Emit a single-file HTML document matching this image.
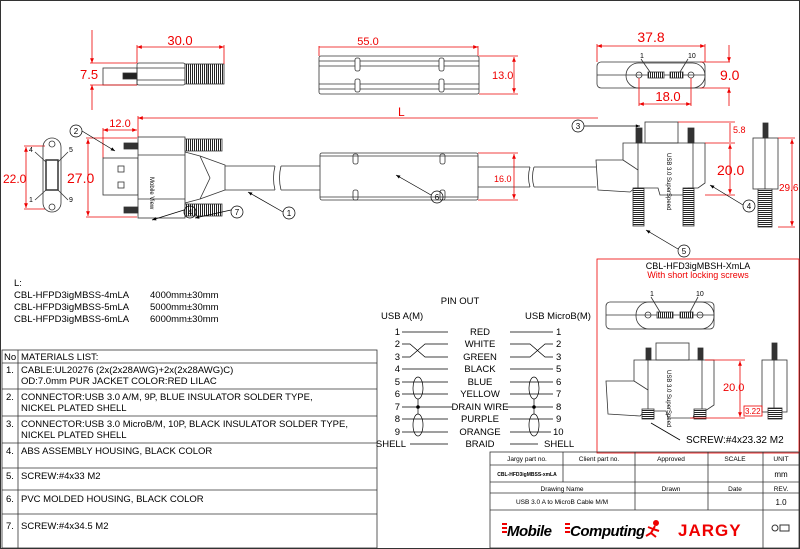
<!DOCTYPE html>
<html><head><meta charset="utf-8"><style>
body{margin:0;background:#fff}
svg{display:block;font-family:"Liberation Sans",Arial,sans-serif}
</style></head><body>
<svg width="800" height="549" viewBox="0 0 800 549" xmlns="http://www.w3.org/2000/svg">
<defs>
<marker id="a" viewBox="0 0 10 10" refX="10" refY="5" markerWidth="8" markerHeight="6" orient="auto-start-reverse"><path d="M0,1L10,5L0,9z" fill="#e00"/></marker>
<marker id="k" viewBox="0 0 10 10" refX="10" refY="5" markerWidth="8" markerHeight="6" orient="auto-start-reverse"><path d="M0,1L10,5L0,9z" fill="#000"/></marker>
<pattern id="h" width="3" height="2" patternUnits="userSpaceOnUse"><rect width="3" height="2" fill="#fff"/><rect width="3" height="1" fill="#222"/></pattern>
<pattern id="v" width="2" height="3" patternUnits="userSpaceOnUse"><rect width="2" height="3" fill="#fff"/><rect width="1" height="3" fill="#222"/></pattern>
</defs>
<rect x="0.5" y="0.5" width="799" height="548" fill="none" stroke="#333"/>

<!-- TOP LEFT side view -->
<g stroke="#333" fill="none" stroke-width="0.8">
<rect x="103" y="68" width="34" height="17"/>
<rect x="123" y="73" width="14" height="6" fill="#222"/>
<rect x="137" y="63" width="48" height="22" rx="2"/>
<line x1="137" y1="68" x2="185" y2="68"/><line x1="137" y1="80" x2="185" y2="80"/>
<rect x="185" y="64" width="39" height="20" fill="url(#v)"/>
<line x1="207" y1="64" x2="207" y2="84"/>
</g>
<g stroke="#e00" fill="none" stroke-width="0.8">
<line x1="137" y1="45" x2="137" y2="63"/><line x1="224" y1="45" x2="224" y2="64"/>
<line x1="137" y1="47" x2="224" y2="47" marker-start="url(#a)" marker-end="url(#a)"/>
<line x1="90" y1="63" x2="137" y2="63"/><line x1="90" y1="85" x2="137" y2="85"/>
<line x1="92" y1="30" x2="92" y2="63" marker-end="url(#a)"/><line x1="92" y1="110" x2="92" y2="85" marker-end="url(#a)"/>
</g>
<text x="180" y="45" fill="#e00" font-size="13" text-anchor="middle">30.0</text>
<text x="80" y="79" fill="#e00" font-size="13">7.5</text>

<!-- TOP middle -->
<g stroke="#333" fill="none" stroke-width="0.8">
<rect x="319" y="56" width="160" height="38" rx="2"/>
<line x1="319" y1="61" x2="479" y2="61"/><line x1="319" y1="66" x2="479" y2="66"/>
<line x1="319" y1="84" x2="479" y2="84"/><line x1="319" y1="89" x2="479" y2="89"/>
<rect x="355" y="58" width="5" height="13" rx="2" fill="#fff"/><rect x="355" y="79" width="5" height="13" rx="2" fill="#fff"/>
<rect x="439" y="58" width="5" height="13" rx="2" fill="#fff"/><rect x="439" y="79" width="5" height="13" rx="2" fill="#fff"/>
</g>
<g stroke="#e00" fill="none" stroke-width="0.8">
<line x1="319" y1="47" x2="478" y2="47" marker-end="url(#a)"/><line x1="319" y1="46" x2="319" y2="56"/><line x1="478" y1="46" x2="478" y2="56"/>
<line x1="479" y1="56" x2="518" y2="56"/><line x1="479" y1="94" x2="518" y2="94"/>
<line x1="514" y1="57" x2="514" y2="93" marker-start="url(#a)" marker-end="url(#a)"/>
</g>
<text x="368" y="45" fill="#e00" font-size="11" text-anchor="middle">55.0</text>
<text x="492" y="79" fill="#e00" font-size="11">13.0</text>

<!-- TOP right -->
<g stroke="#333" fill="none" stroke-width="0.8">
<rect x="597" y="62" width="108" height="26" rx="4"/>
<rect x="626" y="63" width="79" height="25" rx="12.5"/>
<line x1="597" y1="75" x2="705" y2="75"/>
<circle cx="639" cy="75" r="3"/><circle cx="691" cy="75" r="3"/>
<rect x="648" y="72" width="16" height="6" fill="url(#v)"/><rect x="670" y="72" width="13" height="6" fill="url(#v)"/>
<line x1="641" y1="59" x2="650" y2="72"/><line x1="688" y1="59" x2="680" y2="72"/>
</g>
<text x="640" y="58" font-size="7">1</text><text x="688" y="58" font-size="7">10</text>
<g stroke="#e00" fill="none" stroke-width="0.8">
<line x1="597" y1="46" x2="705" y2="46" marker-start="url(#a)" marker-end="url(#a)"/>
<line x1="597" y1="44" x2="597" y2="62"/><line x1="705" y1="44" x2="705" y2="62"/>
<line x1="700" y1="62" x2="730" y2="62"/><line x1="700" y1="88" x2="730" y2="88"/>
<line x1="729" y1="45" x2="729" y2="62" marker-end="url(#a)"/><line x1="729" y1="106" x2="729" y2="88" marker-end="url(#a)"/>
<line x1="639" y1="78" x2="639" y2="106"/><line x1="691" y1="78" x2="691" y2="106"/>
<line x1="639" y1="104" x2="691" y2="104" marker-start="url(#a)" marker-end="url(#a)"/>
</g>
<text x="651" y="42" fill="#e00" font-size="14" text-anchor="middle">37.8</text>
<text x="720" y="80" fill="#e00" font-size="14">9.0</text>
<text x="668" y="101" fill="#e00" font-size="13" text-anchor="middle">18.0</text>

<!-- L dimension -->
<g stroke="#e00" fill="none" stroke-width="0.8">
<line x1="138" y1="118" x2="598" y2="118" marker-start="url(#a)"/>
<line x1="138" y1="116" x2="138" y2="138"/>
<line x1="103" y1="128" x2="103" y2="158"/>
<line x1="103" y1="130" x2="137" y2="130" marker-start="url(#a)" marker-end="url(#a)"/>
<line x1="86" y1="138" x2="137" y2="138"/><line x1="86" y1="217" x2="137" y2="217"/>
<line x1="88" y1="139" x2="88" y2="216" marker-start="url(#a)" marker-end="url(#a)"/>
<line x1="24" y1="146" x2="45" y2="146"/><line x1="24" y1="209" x2="45" y2="209"/>
<line x1="26" y1="147" x2="26" y2="208" marker-start="url(#a)" marker-end="url(#a)"/>
</g>
<text x="398" y="116" fill="#e00" font-size="12">L</text>
<text x="120" y="127" fill="#e00" font-size="11" text-anchor="middle">12.0</text>
<text x="3" y="183" fill="#e00" font-size="12">22.0</text>
<text x="67" y="183" fill="#e00" font-size="14">27.0</text>

<!-- end view left -->
<g stroke="#333" fill="none" stroke-width="0.8">
<rect x="43" y="138" width="18" height="74" rx="9"/>
<rect x="46" y="160" width="12" height="30" fill="#fff" stroke-width="1.5"/>
<circle cx="52" cy="144" r="3"/><circle cx="52" cy="207" r="3"/>
<line x1="35" y1="152" x2="46" y2="162"/><line x1="68" y1="152" x2="58" y2="162"/>
<line x1="35" y1="200" x2="46" y2="190"/><line x1="68" y1="200" x2="58" y2="190"/>
</g>
<text x="29" y="152" font-size="7">4</text><text x="69" y="152" font-size="7">5</text>
<text x="29" y="202" font-size="7">1</text><text x="69" y="202" font-size="7">9</text>

<!-- USB A connector -->
<g stroke="#333" fill="none" stroke-width="0.8">
<rect x="103" y="158" width="35" height="37"/>
<rect x="118" y="166" width="6" height="6"/><rect x="118" y="182" width="6" height="6"/>
<rect x="138" y="137" width="47" height="81" fill="#fff"/>
<line x1="138" y1="155" x2="185" y2="155"/><line x1="138" y1="199" x2="185" y2="199"/>
<rect x="124" y="143" width="14" height="6" fill="#333"/><rect x="124" y="207" width="14" height="6" fill="#333"/>
<rect x="185" y="139" width="37" height="12" fill="url(#v)"/><rect x="185" y="204" width="37" height="12" fill="url(#v)"/>
<path d="M185,152 L200,156 L225,165 L225,190 L200,199 L185,203"/>
<path d="M200,156 L210,178 L200,199"/>
<line x1="225" y1="166" x2="275" y2="166"/><line x1="225" y1="190" x2="275" y2="190"/>
<line x1="281" y1="166" x2="320" y2="166"/><line x1="281" y1="190" x2="320" y2="190"/>
<path d="M275,166 q-3,12 0,24 M281,166 q-3,12 0,24"/>
<rect x="320" y="153" width="158" height="47" rx="2"/>
<line x1="320" y1="156" x2="478" y2="156"/><line x1="320" y1="197" x2="478" y2="197"/>
<rect x="353" y="154" width="5" height="10" rx="2"/><rect x="353" y="190" width="5" height="10" rx="2"/>
<rect x="440" y="154" width="5" height="10" rx="2"/><rect x="440" y="190" width="5" height="10" rx="2"/>
<line x1="478" y1="167" x2="530" y2="167"/><line x1="478" y1="187" x2="530" y2="187"/>
<line x1="534" y1="167" x2="596" y2="167"/><line x1="534" y1="187" x2="596" y2="187"/>
<path d="M530,167 q-3,10 0,20 M534,167 q-3,10 0,20"/>
<path d="M596,160 L623,160 L623,143 L705,143 L705,183 L698,188 L688,188 L686,195 L660,195 L658,188 L635,188 L630,192 L598,190 Z" fill="#fff"/>
<line x1="623" y1="160" x2="638" y2="170"/><line x1="638" y1="143" x2="638" y2="188"/><line x1="693" y1="143" x2="693" y2="188"/>
<rect x="645" y="122" width="33" height="21"/>
<rect x="636" y="128" width="6" height="15" fill="#333"/><rect x="688" y="128" width="6" height="15" fill="#333"/>
<rect x="633" y="188" width="11" height="38" fill="url(#h)"/><rect x="683" y="188" width="11" height="38" fill="url(#h)"/>
<rect x="753" y="138" width="25" height="51"/><line x1="765" y1="128" x2="765" y2="189"/>
<rect x="763" y="123" width="5" height="15" fill="#333"/>
<rect x="758" y="189" width="14" height="38" fill="url(#h)"/>
</g>
<text x="150" y="177" font-size="6" transform="rotate(90 150 177)">Mobile View</text>
<text x="667" y="153" font-size="6" transform="rotate(90 667 153)">USB 3.0 SuperSpeed</text>
<g stroke="#e00" fill="none" stroke-width="0.8">
<line x1="478" y1="153" x2="518" y2="153"/><line x1="478" y1="200" x2="518" y2="200"/>
<line x1="514" y1="154" x2="514" y2="199" marker-start="url(#a)" marker-end="url(#a)"/>
<line x1="678" y1="122" x2="735" y2="122"/><line x1="705" y1="143" x2="735" y2="143"/><line x1="705" y1="195" x2="735" y2="195"/>
<line x1="730" y1="123" x2="730" y2="142"/><line x1="730" y1="144" x2="730" y2="194" marker-start="url(#a)" marker-end="url(#a)"/>
<line x1="778" y1="138" x2="795" y2="138"/><line x1="778" y1="227" x2="795" y2="227"/>
<line x1="792" y1="139" x2="792" y2="226" marker-start="url(#a)" marker-end="url(#a)"/>
</g>
<text x="494" y="182" fill="#e00" font-size="9">16.0</text>
<text x="733" y="133" fill="#e00" font-size="9">5.8</text>
<text x="717" y="175" fill="#e00" font-size="14">20.0</text>
<text x="779" y="191" fill="#e00" font-size="10">29.6</text>

<!-- callouts -->
<g stroke="#000" fill="none" stroke-width="0.7">
<circle cx="76" cy="131" r="6"/><line x1="82" y1="131" x2="115" y2="151" marker-end="url(#k)"/>
<circle cx="578" cy="126" r="6"/><line x1="584" y1="126" x2="640" y2="126" marker-end="url(#k)"/>
<circle cx="289" cy="213" r="6"/><line x1="283" y1="212" x2="248" y2="192" marker-end="url(#k)"/>
<circle cx="190" cy="212" r="6"/><line x1="184" y1="210" x2="152" y2="220" marker-end="url(#k)"/>
<circle cx="237" cy="212" r="6"/><line x1="231" y1="210" x2="195" y2="218" marker-end="url(#k)"/>
<circle cx="437" cy="197" r="6"/><line x1="431" y1="195" x2="396" y2="175" marker-end="url(#k)"/>
<circle cx="749" cy="206" r="6"/><line x1="743" y1="205" x2="710" y2="185" marker-end="url(#k)"/>
<circle cx="684" cy="251" r="6"/><line x1="678" y1="249" x2="646" y2="230" marker-end="url(#k)"/>
</g>
<g font-size="8" text-anchor="middle">
<text x="76" y="134">2</text><text x="578" y="129">3</text><text x="289" y="216">1</text><text x="190" y="215">4</text>
<text x="237" y="215">7</text><text x="437" y="200">6</text><text x="749" y="209">4</text><text x="684" y="254">5</text>
</g>

<!-- L list -->
<g font-size="9.5">
<text x="14" y="286">L:</text>
<text x="14" y="298">CBL-HFPD3igMBSS-4mLA</text><text x="150" y="298">4000mm±30mm</text>
<text x="14" y="310">CBL-HFPD3igMBSS-5mLA</text><text x="150" y="310">5000mm±30mm</text>
<text x="14" y="322">CBL-HFPD3igMBSS-6mLA</text><text x="150" y="322">6000mm±30mm</text>
</g>

<!-- materials table -->
<g stroke="#333" fill="none" stroke-width="0.8">
<rect x="2" y="350" width="375" height="198"/>
<line x1="18" y1="350" x2="18" y2="548"/>
<line x1="2" y1="363" x2="377" y2="363"/><line x1="2" y1="389" x2="377" y2="389"/>
<line x1="2" y1="416" x2="377" y2="416"/><line x1="2" y1="443" x2="377" y2="443"/>
<line x1="2" y1="468" x2="377" y2="468"/><line x1="2" y1="490" x2="377" y2="490"/>
<line x1="2" y1="514" x2="377" y2="514"/>
</g>
<g font-size="9.5">
<text x="4" y="360">No</text><text x="21" y="360">MATERIALS LIST:</text>
<text x="6" y="373">1.</text><text x="21" y="373">CABLE:UL20276 (2x(2x28AWG)+2x(2x28AWG)C)</text><text x="21" y="384">OD:7.0mm  PUR JACKET COLOR:RED LILAC</text>
<text x="6" y="400">2.</text><text x="21" y="400">CONNECTOR:USB 3.0 A/M, 9P, BLUE INSULATOR SOLDER TYPE,</text><text x="21" y="411">NICKEL PLATED SHELL</text>
<text x="6" y="427">3.</text><text x="21" y="427">CONNECTOR:USB 3.0 MicroB/M, 10P, BLACK INSULATOR SOLDER TYPE,</text><text x="21" y="438">NICKEL PLATED SHELL</text>
<text x="6" y="454">4.</text><text x="21" y="454">ABS ASSEMBLY HOUSING, BLACK COLOR</text>
<text x="6" y="479">5.</text><text x="21" y="479">SCREW:#4x33 M2</text>
<text x="6" y="502">6.</text><text x="21" y="502">PVC MOLDED HOUSING, BLACK COLOR</text>
<text x="6" y="529">7.</text><text x="21" y="529">SCREW:#4x34.5 M2</text>
</g>

<!-- pinout -->
<g font-size="9.5">
<text x="460" y="304" text-anchor="middle">PIN OUT</text>
<text x="381" y="319">USB A(M)</text><text x="525" y="319">USB MicroB(M)</text>
<g text-anchor="end">
<text x="400" y="335">1</text><text x="400" y="347">2</text><text x="400" y="360">3</text><text x="400" y="372">4</text><text x="400" y="385">5</text>
<text x="400" y="397">6</text><text x="400" y="410">7</text><text x="400" y="422">8</text><text x="400" y="435">9</text><text x="406" y="447">SHELL</text>
</g>
<g text-anchor="middle">
<text x="480" y="335">RED</text><text x="480" y="347">WHITE</text><text x="480" y="360">GREEN</text><text x="480" y="372">BLACK</text><text x="480" y="385">BLUE</text>
<text x="480" y="397">YELLOW</text><text x="480" y="410">DRAIN WIRE</text><text x="480" y="422">PURPLE</text><text x="480" y="435">ORANGE</text><text x="480" y="447">BRAID</text>
</g>
<text x="556" y="335">1</text><text x="556" y="347">2</text><text x="556" y="360">3</text><text x="556" y="372">5</text><text x="556" y="385">6</text>
<text x="556" y="397">7</text><text x="556" y="410">8</text><text x="556" y="422">9</text><text x="553" y="435">10</text><text x="544" y="447">SHELL</text>
</g>
<g stroke="#000" fill="none" stroke-width="0.7">
<path d="M402,332H448M402,369H448M402,382H448M402,394H448M402,407H452M402,419H448M402,432H448M410,444H448"/>
<path d="M510,332H553M510,369H553M510,382H553M510,394H553M506,407H553M510,419H553M510,432H551M510,444H538"/>
<path d="M402,344H410L425,357H448M402,357H410L425,344H448"/>
<path d="M510,344H530L545,357H553M510,357H530L545,344H553"/>
<ellipse cx="418" cy="388" rx="5" ry="11"/><ellipse cx="418" cy="425" rx="5" ry="11"/>
<ellipse cx="534" cy="388" rx="5" ry="11"/><ellipse cx="534" cy="425" rx="5" ry="11"/>
<line x1="418" y1="399" x2="418" y2="414"/><line x1="534" y1="399" x2="534" y2="414"/>
</g>
<circle cx="418" cy="407" r="1.8"/><circle cx="534" cy="407" r="1.8"/>

<!-- red box -->
<rect x="597" y="259" width="202" height="194" fill="none" stroke="#e00" stroke-width="0.8"/>
<text x="698" y="269" font-size="9" text-anchor="middle">CBL-HFD3igMBSH-XmLA</text>
<text x="698" y="278" font-size="9" fill="#e00" text-anchor="middle">With short locking screws</text>
<g stroke="#333" fill="none" stroke-width="0.8">
<rect x="606" y="302" width="108" height="27" rx="4"/>
<rect x="636" y="302" width="78" height="27" rx="13"/>
<line x1="606" y1="315" x2="714" y2="315"/>
<circle cx="648" cy="315" r="3"/><circle cx="700" cy="315" r="3"/>
<rect x="657" y="312" width="16" height="6" fill="url(#v)"/><rect x="680" y="312" width="13" height="6" fill="url(#v)"/>
<line x1="651" y1="297" x2="660" y2="312"/><line x1="698" y1="297" x2="690" y2="312"/>
<path d="M606,381 L634,381 L634,360 L714,360 L714,405 L705,411 L695,411 L693,418 L668,418 L666,411 L645,411 L640,416 L608,414 Z"/>
<line x1="634" y1="381" x2="648" y2="390"/><line x1="648" y1="360" x2="648" y2="411"/><line x1="702" y1="360" x2="702" y2="411"/>
<rect x="656" y="343" width="33" height="17"/>
<rect x="646" y="348" width="5" height="12" fill="#333"/><rect x="698" y="348" width="5" height="12" fill="#333"/>
<rect x="642" y="409" width="12" height="10" fill="url(#h)"/><rect x="694" y="409" width="12" height="10" fill="url(#h)"/>
<rect x="762" y="360" width="25" height="52"/><line x1="774" y1="343" x2="774" y2="412"/>
<rect x="772" y="343" width="5" height="17" fill="#333"/><rect x="768" y="408" width="14" height="11" fill="url(#h)"/>
<line x1="651" y1="423" x2="680" y2="440" stroke="#000"/>
</g>
<text x="667" y="370" font-size="6" transform="rotate(90 667 370)">USB 3.0 SuperSpeed</text>
<text x="650" y="296" font-size="7">1</text><text x="696" y="296" font-size="7">10</text>
<g stroke="#e00" fill="none" stroke-width="0.8">
<line x1="705" y1="360" x2="745" y2="360"/><line x1="690" y1="418" x2="745" y2="418"/>
<line x1="740" y1="361" x2="740" y2="417" marker-start="url(#a)" marker-end="url(#a)"/>
<rect x="744" y="406" width="18" height="10"/>
</g>
<text x="723" y="391" fill="#e00" font-size="11">20.0</text>
<text x="745" y="414" fill="#e00" font-size="8">3.22</text>
<text x="686" y="443" font-size="10">SCREW:#4x23.32 M2</text>

<!-- title block -->
<g stroke="#333" fill="none" stroke-width="0.8">
<rect x="490" y="452" width="309" height="96"/>
<line x1="490" y1="465" x2="799" y2="465"/><line x1="490" y1="482" x2="799" y2="482"/>
<line x1="490" y1="493" x2="799" y2="493"/><line x1="490" y1="510" x2="799" y2="510"/>
<line x1="563" y1="452" x2="563" y2="482"/>
<line x1="635" y1="452" x2="635" y2="510"/><line x1="708" y1="452" x2="708" y2="510"/>
<line x1="763" y1="452" x2="763" y2="548"/>
</g>
<g font-size="6.5" text-anchor="middle">
<text x="527" y="461">Jargy part no.</text><text x="599" y="461">Client part no.</text><text x="671" y="461">Approved</text>
<text x="735" y="461">SCALE</text><text x="781" y="461">UNIT</text>
<text x="527" y="476" font-size="5" font-weight="bold">CBL-HFD3igMBSS-xmLA</text><text x="781" y="477" font-size="8">mm</text>
<text x="562" y="491">Drawing Name</text><text x="671" y="491">Drawn</text><text x="735" y="491">Date</text><text x="781" y="491">REV.</text>
<text x="562" y="504">USB 3.0 A to MicroB Cable M/M</text><text x="781" y="505" font-size="8">1.0</text>
</g>
<g fill="#e00"><rect x="502" y="523" width="5" height="2"/><rect x="502" y="527" width="5" height="2"/><rect x="502" y="531" width="5" height="2"/>
<rect x="565" y="523" width="5" height="2"/><rect x="565" y="527" width="5" height="2"/><rect x="565" y="531" width="5" height="2"/></g>
<text x="507" y="536" font-size="15" font-weight="bold" font-style="italic" letter-spacing="-0.5">Mobile</text>
<text x="570" y="536" font-size="15" font-weight="bold" font-style="italic" letter-spacing="-0.5">Computing</text>
<g stroke="#e00" stroke-width="2" fill="none"><circle cx="656" cy="523" r="2" fill="#e00"/><path d="M655,526 L651,533 L646,536 M651,533 L656,537 M653,529 L648,527 M653,529 L659,531"/></g>
<text x="678" y="536" font-size="17" font-weight="bold" fill="#e00" letter-spacing="1">JARGY</text>
<circle cx="775" cy="528" r="3" fill="none" stroke="#333"/><rect x="780" y="525" width="9" height="6" fill="none" stroke="#333"/>
</svg>
</body></html>
